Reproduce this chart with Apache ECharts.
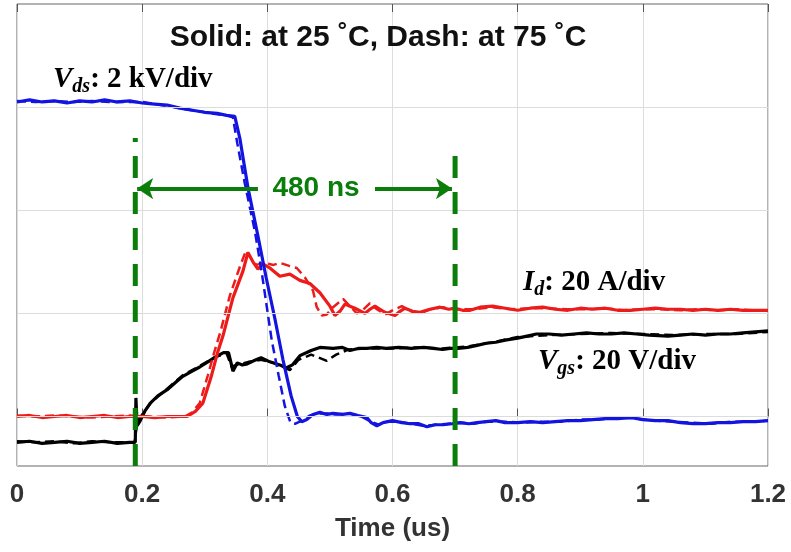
<!DOCTYPE html>
<html>
<head>
<meta charset="utf-8">
<script src="https://cdn.jsdelivr.net/npm/echarts@6/dist/echarts.min.js"></script>
<style>
  html, body { margin: 0; padding: 0; background: #fff; }
  #chart { width: 791px; height: 552px; }
</style>
</head>
<body>
<div id="chart"></div>
<script>
// time axis (us) and vertical scale in divisions (grid line 0 = lowest one)
const xTicks = [0, 0.2, 0.4, 0.6, 0.8, 1, 1.2]
const gridDivs = [0, 1, 2, 3]

// Vds, 25 C (solid) and 75 C (dash)
const vdsSolid = [[0,3.05],[0.02,3.07],[0.04,3.05],[0.06,3.06],[0.08,3.04],[0.1,3.06],[0.12,3.05],[0.14,3.07],[0.16,3.05],[0.18,3.06],[0.2,3.04],[0.22,3.03],[0.24,3.02],[0.26,2.99],[0.28,2.97],[0.3,2.95],[0.32,2.94],[0.335,2.92],[0.348,2.91],[0.356,2.7],[0.369,2.22],[0.385,1.75],[0.398,1.35],[0.412,0.95],[0.425,0.55],[0.438,0.2],[0.448,0],[0.455,-0.05],[0.463,-0.03],[0.473,0.02],[0.484,0.04],[0.495,0.02],[0.505,0.03],[0.52,0.02],[0.532,0.03],[0.545,0.01],[0.559,-0.01],[0.566,-0.06],[0.575,-0.09],[0.585,-0.06],[0.6,-0.04],[0.615,-0.06],[0.628,-0.07],[0.642,-0.07],[0.655,-0.1],[0.668,-0.08],[0.681,-0.08],[0.695,-0.07],[0.708,-0.06],[0.722,-0.07],[0.735,-0.06],[0.75,-0.05],[0.765,-0.04],[0.78,-0.06],[0.8,-0.06],[0.82,-0.05],[0.84,-0.06],[0.86,-0.05],[0.88,-0.04],[0.9,-0.04],[0.92,-0.03],[0.94,-0.02],[0.96,-0.02],[0.98,-0.01],[1,-0.03],[1.02,-0.04],[1.04,-0.04],[1.06,-0.06],[1.08,-0.07],[1.1,-0.07],[1.12,-0.06],[1.14,-0.06],[1.16,-0.05],[1.18,-0.05],[1.2,-0.04]]
const vdsDash = [[0,3.06],[0.03,3.05],[0.06,3.06],[0.09,3.05],[0.12,3.06],[0.15,3.05],[0.18,3.05],[0.2,3.05],[0.22,3.03],[0.24,3.01],[0.26,2.99],[0.28,2.97],[0.3,2.95],[0.32,2.93],[0.335,2.92],[0.345,2.9],[0.352,2.65],[0.364,2.26],[0.38,1.8],[0.391,1.4],[0.407,0.74],[0.418,0.4],[0.428,0.1],[0.437,-0.06],[0.445,-0.07],[0.455,-0.04],[0.468,0.01],[0.48,0.03],[0.495,0.03],[0.51,0.02],[0.53,0.03],[0.55,0],[0.565,-0.05],[0.578,-0.08],[0.59,-0.05],[0.61,-0.05],[0.63,-0.07],[0.65,-0.09],[0.67,-0.08],[0.69,-0.07],[0.71,-0.06],[0.73,-0.07],[0.75,-0.05],[0.78,-0.05],[0.81,-0.06],[0.84,-0.05],[0.87,-0.05],[0.9,-0.03],[0.93,-0.03],[0.96,-0.01],[0.99,-0.02],[1.02,-0.04],[1.05,-0.05],[1.08,-0.06],[1.11,-0.07],[1.14,-0.05],[1.17,-0.05],[1.2,-0.04]]

// Id, 25 C (solid) and 75 C (dash)
const idSolid = [[0,0],[0.02,0.01],[0.04,-0.01],[0.06,0],[0.08,0.01],[0.1,-0.01],[0.12,0],[0.14,0.01],[0.16,-0.01],[0.18,0],[0.2,0],[0.22,-0.01],[0.24,0],[0.26,0],[0.272,0],[0.285,0.05],[0.297,0.13],[0.31,0.38],[0.32,0.61],[0.329,0.78],[0.345,1.15],[0.361,1.41],[0.369,1.59],[0.377,1.5],[0.385,1.43],[0.393,1.48],[0.404,1.44],[0.42,1.36],[0.436,1.38],[0.452,1.32],[0.468,1.29],[0.484,1.2],[0.5,1.07],[0.508,0.98],[0.516,1.02],[0.524,1.09],[0.532,1.07],[0.54,1.05],[0.556,1],[0.564,1.04],[0.572,1.07],[0.58,1.04],[0.588,1.01],[0.604,0.98],[0.612,1.02],[0.62,1.05],[0.632,1.02],[0.644,1.01],[0.66,1.04],[0.676,1.06],[0.69,1.04],[0.7,1.05],[0.712,1.03],[0.724,1.03],[0.74,1.06],[0.76,1.07],[0.78,1.05],[0.8,1.03],[0.82,1.05],[0.84,1.06],[0.86,1.04],[0.88,1.03],[0.9,1.05],[0.92,1.04],[0.94,1.05],[0.96,1.03],[0.98,1.03],[1,1.04],[1.02,1.05],[1.04,1.04],[1.06,1.04],[1.08,1.03],[1.1,1.04],[1.12,1.03],[1.14,1.04],[1.16,1.03],[1.18,1.03],[1.2,1.03]]
const idDash = [[0,0.01],[0.03,0],[0.06,0.01],[0.09,0],[0.12,-0.01],[0.15,0],[0.18,0.01],[0.21,0],[0.24,-0.01],[0.268,0],[0.28,0.04],[0.292,0.13],[0.305,0.4],[0.315,0.62],[0.325,0.82],[0.34,1.17],[0.356,1.45],[0.366,1.61],[0.374,1.53],[0.382,1.47],[0.395,1.49],[0.41,1.47],[0.42,1.49],[0.435,1.46],[0.447,1.44],[0.46,1.35],[0.473,1.22],[0.479,1.06],[0.487,0.98],[0.495,0.99],[0.505,1.06],[0.521,1.14],[0.532,1.07],[0.543,1],[0.552,1.03],[0.564,1.1],[0.575,1.04],[0.588,0.99],[0.6,1.03],[0.615,1.07],[0.63,1.02],[0.645,1],[0.66,1.04],[0.68,1.06],[0.7,1.04],[0.73,1.04],[0.76,1.06],[0.79,1.04],[0.82,1.05],[0.85,1.05],[0.88,1.04],[0.91,1.04],[0.94,1.05],[0.97,1.03],[1,1.04],[1.03,1.04],[1.06,1.03],[1.09,1.04],[1.12,1.03],[1.15,1.04],[1.18,1.03],[1.2,1.03]]

// Vgs, 25 C (solid) and 75 C (dash)
const vgsSolid = [[0,-0.25],[0.02,-0.24],[0.04,-0.26],[0.06,-0.25],[0.08,-0.24],[0.1,-0.26],[0.12,-0.25],[0.14,-0.24],[0.16,-0.26],[0.18,-0.25],[0.189,-0.25],[0.19,0.18],[0.192,-0.09],[0.197,-0.04],[0.205,0.06],[0.213,0.13],[0.225,0.2],[0.24,0.26],[0.255,0.34],[0.265,0.39],[0.28,0.44],[0.292,0.48],[0.305,0.53],[0.318,0.58],[0.33,0.62],[0.338,0.62],[0.342,0.52],[0.345,0.44],[0.352,0.52],[0.36,0.5],[0.368,0.51],[0.378,0.54],[0.39,0.57],[0.404,0.53],[0.42,0.5],[0.43,0.47],[0.44,0.5],[0.452,0.59],[0.463,0.62],[0.47,0.64],[0.484,0.67],[0.505,0.66],[0.52,0.67],[0.532,0.64],[0.545,0.66],[0.559,0.66],[0.575,0.67],[0.59,0.66],[0.61,0.67],[0.63,0.66],[0.65,0.67],[0.665,0.66],[0.68,0.65],[0.692,0.66],[0.705,0.66],[0.72,0.67],[0.735,0.69],[0.75,0.71],[0.765,0.72],[0.78,0.74],[0.8,0.76],[0.815,0.78],[0.83,0.8],[0.85,0.8],[0.87,0.79],[0.89,0.8],[0.91,0.81],[0.93,0.8],[0.95,0.8],[0.97,0.81],[0.99,0.8],[1.01,0.79],[1.04,0.78],[1.06,0.79],[1.08,0.8],[1.1,0.79],[1.12,0.8],[1.14,0.8],[1.16,0.81],[1.18,0.82],[1.2,0.83]]
const vgsDash = [[0,-0.24],[0.03,-0.25],[0.06,-0.24],[0.09,-0.26],[0.12,-0.24],[0.15,-0.25],[0.188,-0.25],[0.192,-0.06],[0.2,0.02],[0.215,0.14],[0.24,0.27],[0.265,0.4],[0.292,0.49],[0.318,0.58],[0.335,0.61],[0.343,0.48],[0.35,0.5],[0.37,0.53],[0.39,0.55],[0.41,0.52],[0.425,0.48],[0.436,0.45],[0.45,0.55],[0.47,0.6],[0.495,0.54],[0.51,0.6],[0.53,0.65],[0.56,0.66],[0.6,0.66],[0.64,0.67],[0.68,0.66],[0.72,0.68],[0.76,0.72],[0.8,0.77],[0.85,0.79],[0.9,0.8],[0.95,0.81],[1,0.8],[1.05,0.79],[1.1,0.8],[1.15,0.8],[1.2,0.82]]

// 480 ns measurement markers
const markerTimes = [0.189, 0.7]
const markerTops = [2.7, 2.62]
const arrowLevel = 2.21
const arrowLeft = [0.192, 0.385]
const arrowRight = [0.572, 0.695]

const yMin = -0.48
const yMax = 4

const BLUE = '#1414e0'
const RED = '#ee1b1b'
const GREEN = '#0a7d0a'

const chart = echarts.init(document.getElementById('chart'))

function trace(name, data, color, dashed, z) {
  return {
    name: name,
    type: 'line',
    data: data,
    z: z,
    showSymbol: false,
    silent: true,
    lineStyle: dashed
      ? { color: color, width: 2.5, type: [9, 5] }
      : { color: color, width: 3.2 },
  }
}

const option = {
  animation: false,
  grid: {
    left: 17, right: 23, top: 4, bottom: 86,
    outerBoundsMode: 'none',
    show: true, borderColor: '#666', borderWidth: 1,
  },
  xAxis: [
    {
      type: 'value',
      min: 0,
      max: 1.2,
      interval: 0.2,
      position: 'bottom',
      axisLine: { show: false },
      axisTick: { inside: true, length: 8, lineStyle: { color: '#555' } },
      splitLine: { show: true, lineStyle: { color: '#dcdcdc' } },
      axisLabel: {
        margin: 16,
        color: '#333',
        fontSize: 26,
        fontWeight: 'bold',
        fontFamily: 'Liberation Sans',
        formatter: (v) => String(Math.round(v * 10) / 10),
      },
      name: 'Time (us)',
      nameLocation: 'middle',
      nameGap: 50,
      nameTextStyle: { color: '#333', fontSize: 26, fontWeight: 'bold', fontFamily: 'Liberation Sans' },
    },
    {
      type: 'value',
      min: 0,
      max: 1.2,
      interval: 0.2,
      position: 'top',
      axisLine: { show: false },
      axisTick: { inside: true, length: 8, lineStyle: { color: '#555' } },
      axisLabel: { show: false },
      splitLine: { show: false },
    },
  ],
  yAxis: [
    {
      type: 'value',
      min: yMin,
      max: yMax,
      axisLine: { show: false },
      axisTick: { show: false },
      axisLabel: { show: false },
      splitLine: { show: false },
    },
  ],
  series: [
    {
      type: 'line',
      data: [],
      z: 1,
      silent: true,
      markLine: {
        silent: true,
        symbol: 'none',
        label: { show: false },
        lineStyle: { color: '#dcdcdc', width: 1, type: 'solid' },
        data: gridDivs.map((d) => ({ yAxis: d })),
      },
    },
    trace('Vgs 25C', vgsSolid, '#000', false, 2),
    trace('Vgs 75C', vgsDash, '#000', true, 2),
    trace('Id 25C', idSolid, RED, false, 3),
    trace('Id 75C', idDash, RED, true, 3),
    trace('Vds 25C', vdsSolid, BLUE, false, 4),
    trace('Vds 75C', vdsDash, BLUE, true, 4),
    ...markerTimes.map((t, i) => ({
      type: 'line',
      data: [[t, yMin], [t, markerTops[i]]],
      z: 5,
      silent: true,
      showSymbol: false,
      lineStyle: { color: GREEN, width: 5, type: [22, 14] },
    })),
    {
      type: 'line',
      data: [],
      z: 5,
      silent: true,
      markLine: {
        silent: true,
        label: { show: false },
        symbolSize: [16, 16],
        lineStyle: { color: GREEN, width: 4, type: 'solid' },
        data: [
          [{ coord: [arrowLeft[0], arrowLevel], symbol: 'arrow' }, { coord: [arrowLeft[1], arrowLevel], symbol: 'none' }],
          [{ coord: [arrowRight[0], arrowLevel], symbol: 'none' }, { coord: [arrowRight[1], arrowLevel], symbol: 'arrow' }],
        ],
      },
    },
  ],
  graphic: [
    {
      type: 'text', x: 378, y: 38, z: 10,
      style: {
        text: 'Solid: at 25 \u02DAC, Dash: at 75 \u02DAC',
        fill: '#111', font: 'bold 30px "Liberation Sans"',
        textAlign: 'center', textVerticalAlign: 'middle',
      },
    },
    {
      type: 'text', x: 316, y: 188, z: 10,
      style: {
        text: '480 ns',
        fill: GREEN, font: 'bold 28px "Liberation Sans"',
        textAlign: 'center', textVerticalAlign: 'middle',
      },
    },
    {
      type: 'text', x: 53, y: 80, z: 10,
      style: {
        text: '{v|V}{s|ds}{t|: 2 kV/div}',
        textAlign: 'left', textVerticalAlign: 'middle',
        rich: {
          v: { fontFamily: 'Liberation Serif', fontStyle: 'italic', fontWeight: 'bold', fontSize: 29, color: '#2424c4' },
          s: { fontFamily: 'Liberation Serif', fontStyle: 'italic', fontWeight: 'bold', fontSize: 20, color: '#2424c4', padding: [14, 0, 0, 0] },
          t: { fontFamily: 'Liberation Serif', fontWeight: 'bold', fontSize: 29, color: '#2424c4' },
        },
      },
    },
    {
      type: 'text', x: 523, y: 283, z: 10,
      style: {
        text: '{v|I}{s|d}{t|: 20 A/div}',
        textAlign: 'left', textVerticalAlign: 'middle',
        rich: {
          v: { fontFamily: 'Liberation Serif', fontStyle: 'italic', fontWeight: 'bold', fontSize: 29, color: '#e31b1b' },
          s: { fontFamily: 'Liberation Serif', fontStyle: 'italic', fontWeight: 'bold', fontSize: 20, color: '#e31b1b', padding: [14, 0, 0, 0] },
          t: { fontFamily: 'Liberation Serif', fontWeight: 'bold', fontSize: 29, color: '#e31b1b' },
        },
      },
    },
    {
      type: 'text', x: 538, y: 362, z: 10,
      style: {
        text: '{v|V}{s|gs}{t|: 20 V/div}',
        textAlign: 'left', textVerticalAlign: 'middle',
        rich: {
          v: { fontFamily: 'Liberation Serif', fontStyle: 'italic', fontWeight: 'bold', fontSize: 29, color: '#555' },
          s: { fontFamily: 'Liberation Serif', fontStyle: 'italic', fontWeight: 'bold', fontSize: 20, color: '#555', padding: [14, 0, 0, 0] },
          t: { fontFamily: 'Liberation Serif', fontWeight: 'bold', fontSize: 29, color: '#555' },
        },
      },
    },
  ],
}

option && chart.setOption(option)
</script>
</body>
</html>
